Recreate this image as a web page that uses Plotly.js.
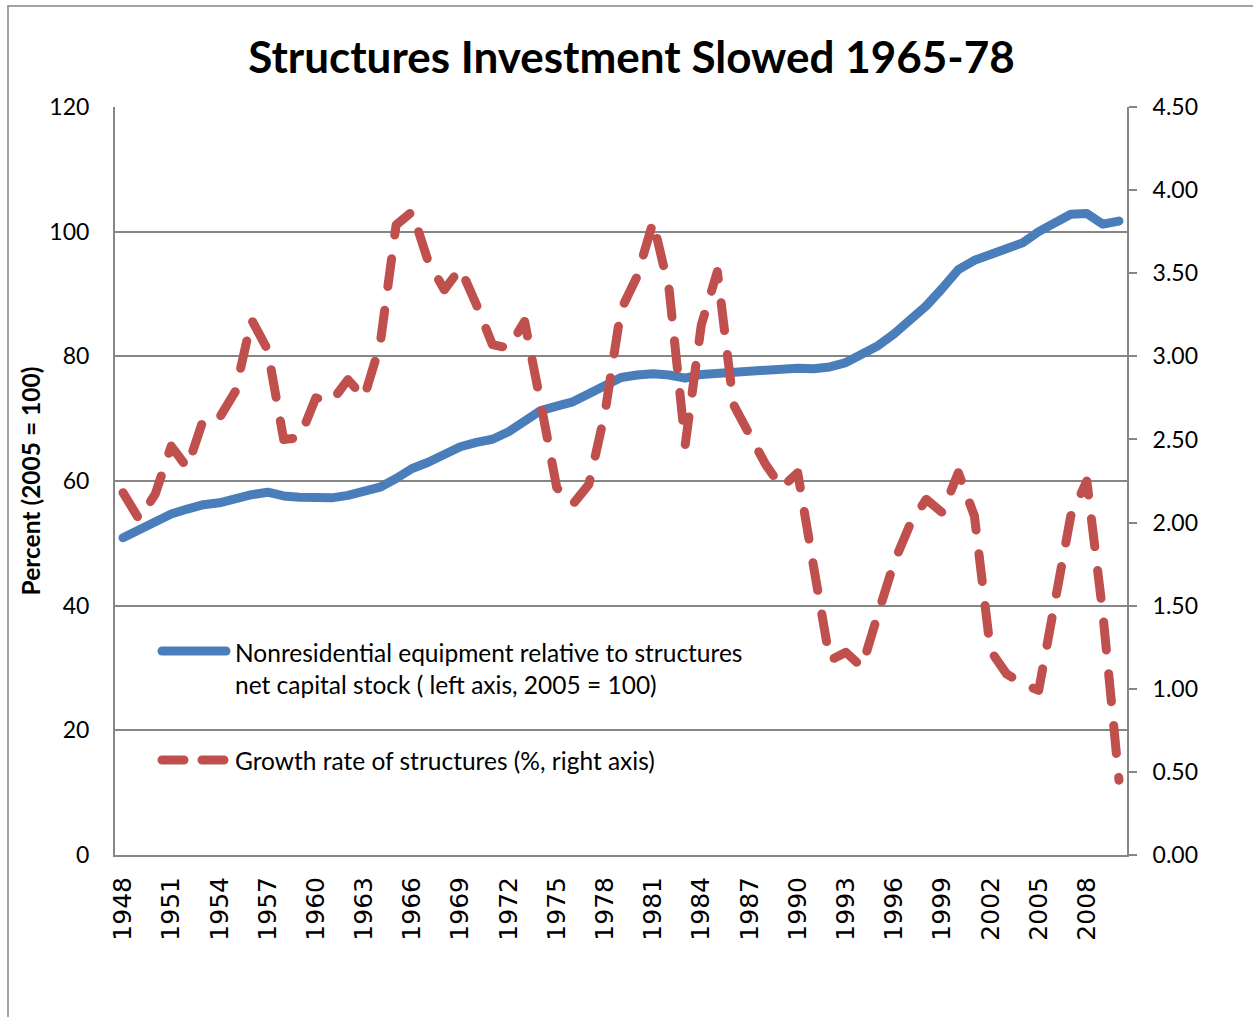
<!DOCTYPE html>
<html>
<head>
<meta charset="utf-8">
<script src="https://cdn.plot.ly/plotly-3.0.1.min.js"></script>
<style>
  html, body { margin: 0; padding: 0; background: #ffffff; }
  #chart { width: 1253px; height: 1017px; }
  #chart .scatterlayer path.js-line { stroke-linecap: round; stroke-linejoin: round; }
  #chart .shapelayer path { stroke-linecap: round; }
</style>
</head>
<body>
<div id="chart"></div>
<script>
// ---- data ----
const years = [1948,1949,1950,1951,1952,1953,1954,1955,1956,1957,1958,1959,1960,1961,1962,1963,1964,1965,1966,1967,1968,1969,1970,1971,1972,1973,1974,1975,1976,1977,1978,1979,1980,1981,1982,1983,1984,1985,1986,1987,1988,1989,1990,1991,1992,1993,1994,1995,1996,1997,1998,1999,2000,2001,2002,2003,2004,2005,2006,2007,2008,2009,2010];

// Nonresidential equipment relative to structures net capital stock (left axis, 2005 = 100)
const equipRelStructures = [50.9,52.3,53.6,54.7,55.5,56.2,56.5,57.3,57.8,58.2,57.6,57.4,57.4,57.3,57.7,58.2,59.0,60.4,62.0,63.0,64.2,65.5,66.2,66.7,67.9,69.6,71.3,72.0,72.7,74.0,75.5,76.6,77.0,77.2,77.0,76.5,77.1,77.3,77.5,77.5,77.8,78.1,78.1,78.0,78.3,79.0,80.2,81.7,83.6,85.7,88.1,90.9,93.9,95.4,96.3,97.1,98.2,100.0,101.6,102.8,102.9,101.2,101.7];

// Growth rate of structures (%, right axis)
const structuresGrowth = [2.18,2.02,2.17,2.46,2.33,2.62,2.63,2.79,3.22,3.04,2.50,2.51,2.75,2.73,2.86,2.75,3.07,3.79,3.87,3.57,3.40,3.53,3.31,3.07,3.05,3.21,2.72,2.21,2.11,2.23,2.66,3.28,3.48,3.81,3.40,2.47,3.19,3.51,2.71,2.52,2.35,2.21,2.30,1.73,1.17,1.22,1.13,1.45,1.76,1.99,2.14,2.06,2.30,2.04,1.23,1.09,1.03,0.99,1.53,2.04,2.25,1.45,0.45];

const seriesNames = [
  "Nonresidential equipment relative to structures",
  "net capital stock ( left axis, 2005 = 100)",
  "Growth rate of structures (%, right axis)"
];
const chartTitle = "Structures Investment Slowed 1965-78";
const leftAxisTitle = "Percent (2005 = 100)";

// ---- styling ----
const BLUE = "#4A7EBB";
const RED = "#C0504D";
const GRID = "#868686";
const FONT = "Lato, 'Open Sans', sans-serif";

// plot area in pixels
const W = 1253, H = 1017;
const L = 115, R = 1127, T = 107, B = 855;
const px2x = p => (p - L) / (R - L);
const px2y = p => (B - p) / (B - T);

const traces = [
  {
    x: years, y: equipRelStructures, type: "scatter", mode: "lines",
    name: seriesNames[0] + " " + seriesNames[1],
    line: { color: BLUE, width: 9 },
    yaxis: "y", showlegend: false, hoverinfo: "x+y"
  },
  {
    x: years, y: structuresGrowth, type: "scatter", mode: "lines",
    name: seriesNames[2],
    line: { color: RED, width: 9, dash: "28px,24px" },
    yaxis: "y2", showlegend: false, hoverinfo: "x+y"
  }
];

const layout = {
  width: W, height: H,
  paper_bgcolor: "#ffffff", plot_bgcolor: "#ffffff",
  margin: { l: L, r: W - R, t: T, b: H - B, pad: 0 },
  font: { family: FONT, color: "#000000" },
  title: {
    text: chartTitle,
    font: { family: FONT, size: 44, weight: "bold", color: "#000000" },
    xref: "container", yref: "container",
    x: 631.5 / W, y: 1 - 58 / H, xanchor: "center", yanchor: "middle"
  },
  showlegend: false,
  xaxis: {
    range: [1947.5, 2010.5],
    tickmode: "linear", tick0: 1948, dtick: 3,
    tickangle: -90,
    tickfont: { family: "'DejaVu Sans', sans-serif", size: 25, color: "#000000" },
    ticks: "", ticklabelstandoff: 10,
    showline: true, linecolor: GRID, linewidth: 2,
    showgrid: false, zeroline: false, fixedrange: true
  },
  yaxis: {
    range: [0, 120], tickmode: "linear", tick0: 0, dtick: 20,
    tickfont: { family: FONT, size: 23, color: "#000000" },
    ticks: "", ticklabelstandoff: 19,
    showline: true, linecolor: GRID, linewidth: 2,
    showgrid: true, gridcolor: GRID, gridwidth: 2,
    zeroline: false, fixedrange: true,
    title: {
      text: leftAxisTitle,
      font: { family: FONT, size: 24.5, weight: "bold", color: "#000000" },
      standoff: 2
    }
  },
  yaxis2: {
    overlaying: "y", side: "right",
    range: [0, 4.5], tickmode: "linear", tick0: 0, dtick: 0.5,
    tickformat: ".2f",
    tickfont: { family: FONT, size: 23, color: "#000000" },
    ticks: "outside", ticklen: 8, tickwidth: 2, tickcolor: GRID,
    ticklabelstandoff: 11,
    showline: true, linecolor: GRID, linewidth: 2,
    showgrid: false, zeroline: false, fixedrange: true
  },
  shapes: [
    // chart-area border (left and top edges visible)
    { type: "line", xref: "paper", yref: "paper", x0: px2x(8), x1: px2x(8), y0: px2y(H), y1: px2y(6),
      line: { color: GRID, width: 1.5 } },
    { type: "line", xref: "paper", yref: "paper", x0: px2x(8), x1: px2x(W), y0: px2y(6), y1: px2y(6),
      line: { color: GRID, width: 1.5 } },
    // legend keys
    { type: "line", xref: "paper", yref: "paper", x0: px2x(162), x1: px2x(226), y0: px2y(651), y1: px2y(651),
      line: { color: BLUE, width: 9 } },
    { type: "line", xref: "paper", yref: "paper", x0: px2x(162), x1: px2x(225), y0: px2y(760), y1: px2y(760),
      line: { color: RED, width: 9, dash: "22px,18px" } }
  ],
  annotations: [
    { xref: "paper", yref: "paper", x: px2x(233), y: px2y(652), xanchor: "left", yanchor: "middle",
      text: seriesNames[0], showarrow: false, font: { family: FONT, size: 24.5, color: "#000000" } },
    { xref: "paper", yref: "paper", x: px2x(233), y: px2y(684), xanchor: "left", yanchor: "middle",
      text: seriesNames[1], showarrow: false, font: { family: FONT, size: 24.5, color: "#000000" } },
    { xref: "paper", yref: "paper", x: px2x(233), y: px2y(760), xanchor: "left", yanchor: "middle",
      text: seriesNames[2], showarrow: false, font: { family: FONT, size: 24.5, color: "#000000" } }
  ]
};

Plotly.newPlot("chart", traces, layout, { staticPlot: true, displayModeBar: false });
</script>
</body>
</html>
